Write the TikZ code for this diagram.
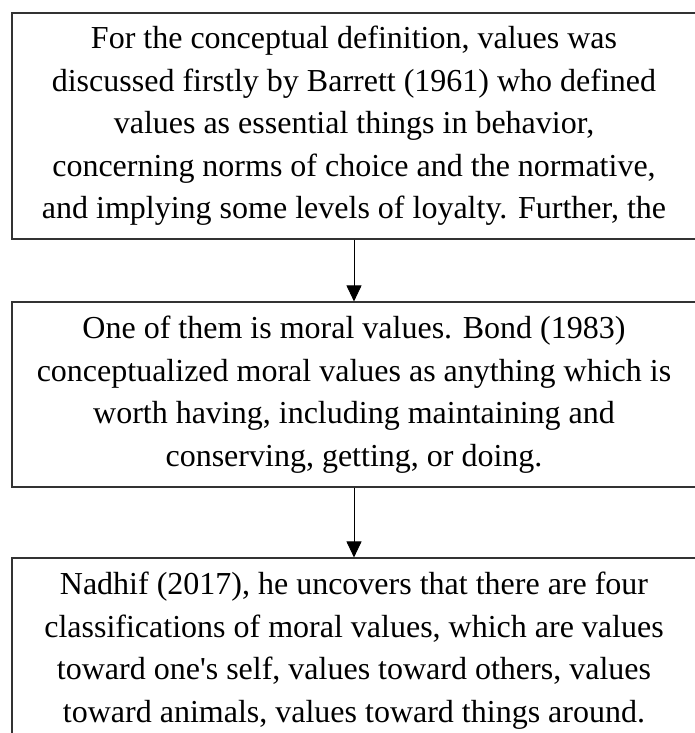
\documentclass[tikz,border=0pt]{standalone}
\usepackage{fontspec}
\newfontfamily\txtfont{Liberation Serif}
\usetikzlibrary{arrows.meta}
\begin{document}
\begin{tikzpicture}[x=1pt,y=1pt,
  textbox/.style={draw=black!80, line width=1.1pt, fill=white, rectangle,
    minimum width=684pt, inner sep=0pt, align=center,
    font=\txtfont\fontsize{32}{42.5}\selectfont},
  flow/.style={line width=0.9pt, -{Triangle[width=15pt,length=16pt]}}]
\useasboundingbox (0,0) rectangle (694,733);
\node[textbox, minimum height=226pt] (b1) at (354,607) {For the conceptual definition, values was\\discussed firstly by Barrett (1961) who defined\\values as essential things in behavior,\\concerning norms of choice and the normative,\\and implying some levels of loyalty. Further, the};
\node[textbox, minimum height=185pt] (b2) at (354,338.5) {One of them is moral values. Bond (1983)\\conceptualized moral values as anything which is\\worth having, including maintaining and\\conserving, getting, or doing.};
\node[textbox, minimum height=185pt] (b3) at (354,82.5) {Nadhif (2017), he uncovers that there are four\\classifications of moral values, which are values\\toward one's self, values toward others, values\\toward animals, values toward things around.};
\draw[flow] (b1.south) -- (b2.north);
\draw[flow] (b2.south) -- (b3.north);
\end{tikzpicture}
\end{document}
